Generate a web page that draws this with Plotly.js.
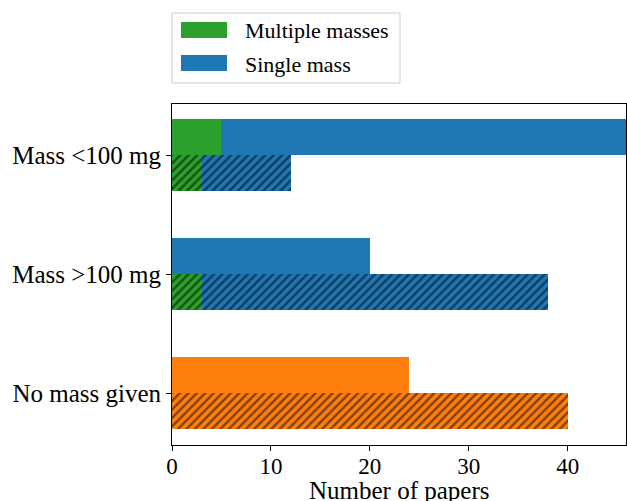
<!DOCTYPE html>
<html><head><meta charset="utf-8">
<script src="https://cdn.plot.ly/plotly-3.0.1.min.js"></script>
<style>body{margin:0;background:#fff}</style></head>
<body><div id="chart" style="width:627px;height:501px"></div>
<script>
const categories = ["Mass <100 mg", "Mass >100 mg", "No mass given"];
// upper (solid) bars
const multipleSolid = [5, 0, 0];
const singleSolid = [45, 20, 0];
const noMassSolid = [0, 0, 24];
// lower (hatched) bars
const multipleHatched = [3, 3, 0];
const singleHatched = [9, 35, 0];
const noMassHatched = [0, 0, 40];
const xTickVals = [0, 10, 20, 30, 40];
const legendNames = ["Multiple masses", "Single mass"];
const xTitle = "Number of papers";

const GREEN = "#2ca02c", BLUE = "#1f77b4", ORANGE = "#ff7f0e";
const FONT = "Liberation Serif";
const n = categories.length;
const pos = categories.map((c, i) => n - 1 - i);
const upY = pos.map(p => p + 0.15);
const loY = pos.map(p => p - 0.15);

function bar(x, y, color, hatched) {
  const m = {color: color, line: {width: 0}};
  if (hatched) m.pattern = {shape: "/", fgcolor: "#000", bgcolor: color, size: 6, solidity: 0.4, fillmode: "overlay"};
  return {type: "bar", orientation: "h", x: x, y: y, width: 0.3, marker: m, showlegend: false, hoverinfo: "x"};
}

const data = [
  bar(multipleSolid, upY, GREEN, false),
  bar(singleSolid, upY, BLUE, false),
  bar(noMassSolid, upY, ORANGE, false),
  bar(multipleHatched, loY, GREEN, true),
  bar(singleHatched, loY, BLUE, true),
  bar(noMassHatched, loY, ORANGE, true)
];

const W = 454, H = 341;
const px = v => (v - 172) / W;
const py = v => (445 - v) / H;

const layout = {
  width: 627, height: 501,
  margin: {l: 172, r: 1, t: 104, b: 56},
  barmode: "stack",
  bargap: 0,
  plot_bgcolor: "#fff", paper_bgcolor: "#fff",
  font: {family: FONT, size: 25, color: "#000"},
  showlegend: false,
  xaxis: {
    range: [0, 45.9], tickvals: xTickVals, ticks: "outside", ticklen: 5, tickcolor: "#000",
    showline: true, linecolor: "#000", linewidth: 1, mirror: true, showgrid: false, zeroline: false,
    tickfont: {family: FONT, size: 23}, ticklabelstandoff: -5,
    automargin: false
  },
  yaxis: {
    range: [-0.437, 2.43], tickvals: pos, ticktext: categories, ticks: "outside", ticklen: 5, tickcolor: "#000",
    showline: true, linecolor: "#000", linewidth: 1, mirror: true, showgrid: false, zeroline: false,
    tickfont: {family: FONT, size: 25}, automargin: false
  },
  shapes: [
    {type: "rect", xref: "paper", yref: "paper", x0: px(172), x1: px(400), y0: py(83), y1: py(13),
     line: {color: "#cccccc", width: 1}, fillcolor: "rgba(255,255,255,0.8)"},
    {type: "rect", xref: "paper", yref: "paper", x0: px(181), x1: px(227), y0: py(38), y1: py(22),
     line: {width: 0}, fillcolor: GREEN},
    {type: "rect", xref: "paper", yref: "paper", x0: px(181), x1: px(227), y0: py(71), y1: py(55),
     line: {width: 0}, fillcolor: BLUE}
  ],
  annotations: [
    {xref: "paper", yref: "paper", x: px(243), y: py(31), text: legendNames[0], showarrow: false,
     xanchor: "left", yanchor: "middle", font: {family: FONT, size: 22}},
    {xref: "paper", yref: "paper", x: px(243), y: py(64), text: legendNames[1], showarrow: false,
     xanchor: "left", yanchor: "middle", font: {family: FONT, size: 22}},
    {xref: "paper", yref: "paper", x: 0.5, y: py(475), text: xTitle, showarrow: false,
     xanchor: "center", yanchor: "top", font: {family: FONT, size: 25}}
  ]
};

Plotly.newPlot("chart", data, layout, {displayModeBar: false, staticPlot: true});
</script></body></html>
